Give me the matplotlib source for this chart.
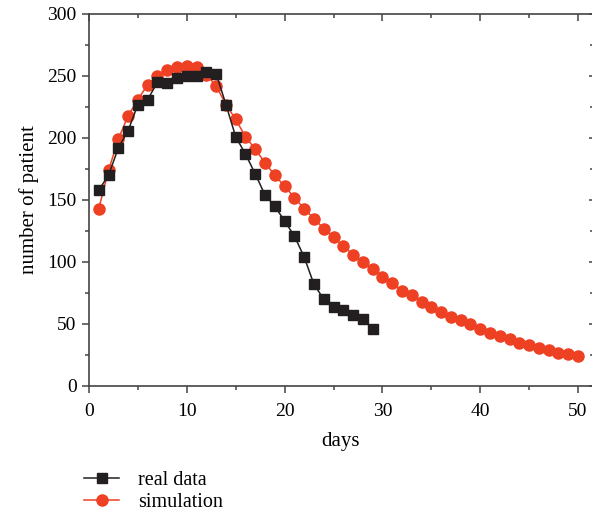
import numpy as np
import matplotlib
matplotlib.use('Agg')
import matplotlib.pyplot as plt
from matplotlib.ticker import MultipleLocator

plt.rcParams['font.family'] = ['Liberation Serif', 'DejaVu Serif']

# data
days_real = list(range(1, 30))
real_data = [158, 170, 192, 206, 227, 231, 245, 244, 248, 250, 250, 253, 252, 227,
             201, 187, 171, 154, 145, 133, 121, 104, 82, 70, 64, 61, 57, 54, 46]

days_sim = list(range(1, 51))
simulation = [143, 174, 199, 218, 231, 243, 250, 255, 257, 258, 257, 251, 242, 227,
              215, 201, 191, 180, 170, 161, 152, 143, 135, 127, 120, 113, 106, 100,
              94, 88, 83, 77, 73, 68, 64, 60, 56, 53, 50, 46, 43, 40, 38, 35, 33,
              31, 29, 27, 26, 24]

black = '#231f20'
red = '#ee4023'

fig = plt.figure(figsize=(5.92, 5.13), dpi=100)
ax = fig.add_axes([89 / 592, (513 - 386) / 513, 504 / 592, 372 / 513])

ax.plot(days_real, real_data, '-s', color=black, markersize=7, lw=1.1,
        markerfacecolor=black, markeredgecolor=black, label='real data', zorder=3)
ax.plot(days_sim, simulation, '-o', color=red, markersize=8, lw=1.1,
        markerfacecolor=red, markeredgecolor=red, label='simulation', zorder=2)

ax.set_xlim(0, 51.53)
ax.set_ylim(0, 300)
ax.xaxis.set_major_locator(MultipleLocator(10))
ax.xaxis.set_minor_locator(MultipleLocator(5))
ax.yaxis.set_major_locator(MultipleLocator(50))
ax.yaxis.set_minor_locator(MultipleLocator(25))

for s in ax.spines.values():
    s.set_color('#444444')
    s.set_linewidth(1.2)

ax.tick_params(which='both', direction='out', top=False, right=False,
               labelsize=14, color='#444444', width=1.1, pad=4)
ax.tick_params(axis='x', which='both', pad=7)
ax.tick_params(which='major', length=5)
ax.tick_params(which='minor', length=3)

# inward ticks on the top and right side
sec_x = ax.secondary_xaxis('top')
sec_x.xaxis.set_major_locator(MultipleLocator(10))
sec_x.xaxis.set_minor_locator(MultipleLocator(5))
sec_x.tick_params(which='both', direction='in', labeltop=False, color='#444444', width=1.1)
sec_x.tick_params(which='major', length=5)
sec_x.tick_params(which='minor', length=3)
sec_x.spines['top'].set_visible(False)
sec_y = ax.secondary_yaxis('right')
sec_y.yaxis.set_major_locator(MultipleLocator(50))
sec_y.yaxis.set_minor_locator(MultipleLocator(25))
sec_y.tick_params(which='both', direction='in', labelright=False, color='#444444', width=1.1)
sec_y.tick_params(which='major', length=3)
sec_y.tick_params(which='minor', length=2)
sec_y.spines['right'].set_visible(False)

ax.set_xlabel('days', fontsize=15, labelpad=9)
ax.set_ylabel('number of patient', fontsize=15, labelpad=6)

fig.legend(loc='upper left', bbox_to_anchor=(84 / 592, 1 - 471 / 513), frameon=False,
           fontsize=14.5, handlelength=1.75, handletextpad=0.95, labelspacing=0.12,
           borderpad=0, borderaxespad=0)

fig.savefig('out.png', dpi=100)
